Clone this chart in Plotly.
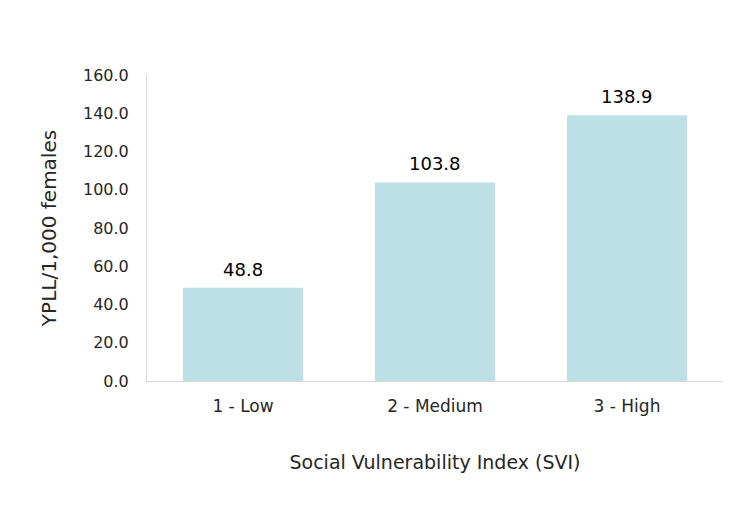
import plotly.graph_objects as go

categories = ["1 - Low", "2 - Medium", "3 - High"]
ypll = [48.8, 103.8, 138.9]

BAR_COLOR = "#bde0e6"
TEXT_COLOR = "#262626"
AXIS_COLOR = "#d9d9d9"
FONT = "DejaVu Sans, sans-serif"

fig = go.Figure()
fig.add_trace(go.Bar(
    x=categories, y=ypll,
    marker=dict(color=BAR_COLOR, line=dict(width=0)),
    width=0.625, hoverinfo="x+y",
))

# value labels sit a little higher above the bars than plotly's own outside text
for cat, v in zip(categories, ypll):
    fig.add_annotation(x=cat, y=v, text=f"{v:.1f}", showarrow=False,
                       yanchor="bottom", yshift=6,
                       font=dict(size=18, color="#000000", family=FONT))

# page body adds an 8px offset, so margins are shifted to compensate
fig.update_layout(
    width=741, height=513,
    margin=dict(l=139, r=26, t=67, b=140),
    paper_bgcolor="white", plot_bgcolor="white",
    font=dict(family=FONT, color=TEXT_COLOR, size=16),
    showlegend=False,
    xaxis=dict(
        automargin=False,
        showline=True, linecolor=AXIS_COLOR, linewidth=1,
        ticks="outside", ticklen=10, tickcolor="rgba(0,0,0,0)",
        tickfont=dict(size=17),
        title=dict(text="Social Vulnerability Index (SVI)", font=dict(size=19), standoff=40),
    ),
    yaxis=dict(
        automargin=False,
        range=[0, 160], dtick=20, tickformat=".1f",
        showgrid=False, zeroline=False,
        showline=True, linecolor=AXIS_COLOR, linewidth=1,
        ticks="outside", ticklen=14, tickcolor="rgba(0,0,0,0)",
        tickfont=dict(size=16),
        title=dict(text="YPLL/1,000 females", font=dict(size=20), standoff=20),
    ),
)

fig.write_html("out.html")
